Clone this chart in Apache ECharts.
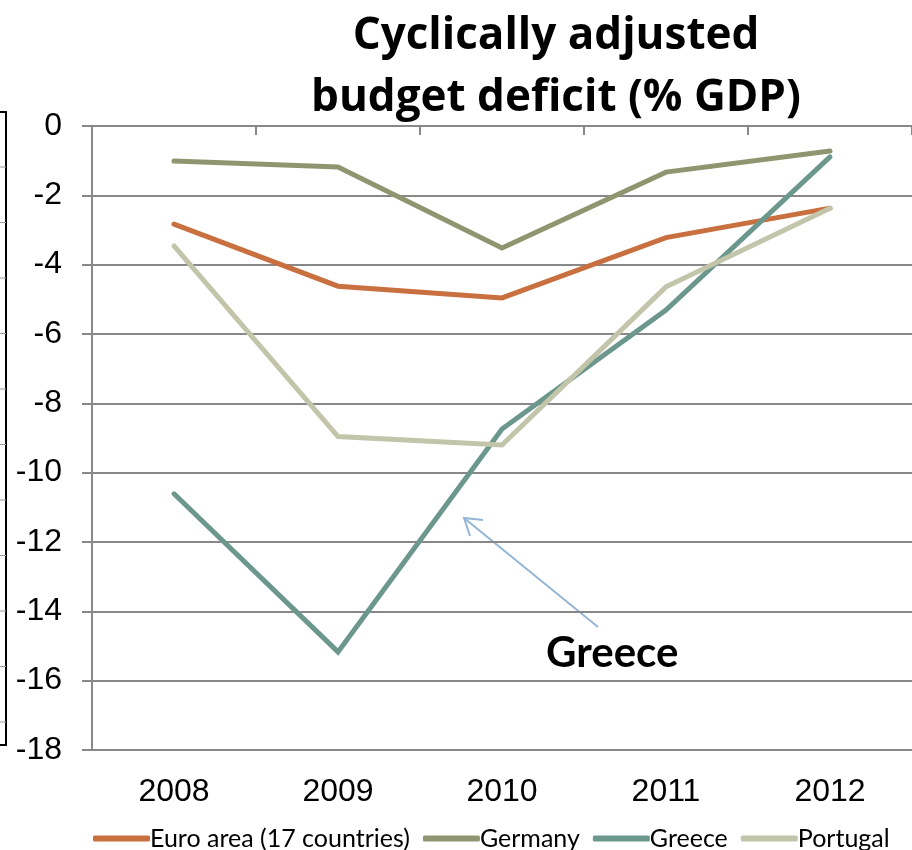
<!DOCTYPE html>
<html>
<head>
<meta charset="utf-8">
<script src="https://cdn.jsdelivr.net/npm/echarts@6/dist/echarts.min.js"></script>
<style>
  html, body { margin: 0; padding: 0; background: #fff; }
  #chart { width: 912px; height: 850px; }
</style>
</head>
<body>
<div id="chart"></div>
<script>
const years = ['2008', '2009', '2010', '2011', '2012'];
const euroArea = [-2.83, -4.62, -4.96, -3.22, -2.37];
const germany = [-1.01, -1.18, -3.52, -1.33, -0.72];
const greece = [-10.61, -15.17, -8.74, -5.31, -0.89];
const portugal = [-3.46, -8.96, -9.2, -4.64, -2.37];
const seriesNames = ['Euro area (17 countries)', 'Germany', 'Greece', 'Portugal'];
const seriesColors = ['#C8703F', '#8E9670', '#6C978D', '#C2C5A9'];

const myChart = echarts.init(document.getElementById('chart'));

const mkSeries = (name, data, color) => ({
  name: name,
  type: 'line',
  data: data,
  symbol: 'none',
  xAxisIndex: 0,
  lineStyle: { color: color, width: 5, cap: 'round', join: 'miter' },
  itemStyle: { color: color },
});

// left edge of a neighbouring chart that got cropped in
const edgeStubs = [];
for (let y = 167; y < 740; y += 55.5) {
  edgeStubs.push({
    type: 'line',
    shape: { x1: 0, y1: y, x2: 6, y2: y },
    style: { stroke: '#999', lineWidth: 1 },
  });
}

const option = {
  animation: false,
  title: {
    text: 'Cyclically adjusted\nbudget deficit (% GDP)',
    left: 551,
    top: 0,
    textAlign: 'center',
    textStyle: {
      fontFamily: 'Open Sans',
      fontWeight: 'bold',
      fontSize: 44,
      lineHeight: 62,
      color: '#000',
    },
  },
  legend: {
    bottom: -6,
    left: 88,
    itemWidth: 57,
    itemHeight: 6,
    itemGap: 13,
    icon: 'roundRect',
    data: seriesNames,
    textStyle: {
      fontFamily: 'Lato',
      fontSize: 25,
      color: '#000',
      padding: [0, 0, 0, -5],
    },
  },
  grid: {
    left: 92,
    right: -6,
    top: 126,
    bottom: 100,
  },
  xAxis: [
    {
      type: 'category',
      data: years,
      position: 'bottom',
      axisLine: { show: false, onZero: false },
      axisTick: { show: false },
      axisLabel: {
        fontFamily: 'Liberation Sans',
        fontSize: 32,
        color: '#000',
        margin: 26,
      },
    },
    {
      type: 'category',
      data: years,
      position: 'top',
      axisLine: { show: true, lineStyle: { color: '#888', width: 2 } },
      axisTick: { show: true, inside: true, length: 9, lineStyle: { color: '#888', width: 2 } },
      axisLabel: { show: false },
    },
  ],
  yAxis: {
    type: 'value',
    min: -18,
    max: 0,
    interval: 2,
    axisLine: { show: true, lineStyle: { color: '#888', width: 2 } },
    axisTick: { show: true, length: 10, lineStyle: { color: '#888', width: 2 } },
    axisLabel: {
      fontFamily: 'Liberation Sans',
      fontSize: 32,
      color: '#000',
      margin: 30,
    },
    splitLine: { lineStyle: { color: '#888', width: 2 } },
  },
  series: [
    mkSeries(seriesNames[0], euroArea, seriesColors[0]),
    mkSeries(seriesNames[1], germany, seriesColors[1]),
    mkSeries(seriesNames[2], greece, seriesColors[2]),
    mkSeries(seriesNames[3], portugal, seriesColors[3]),
  ],
  graphic: [
    {
      type: 'polyline',
      shape: { points: [[0, 112], [6, 112], [6, 745], [0, 745]] },
      style: { stroke: '#000', lineWidth: 2, fill: null },
    },
    ...edgeStubs,
    // arrow pointing at the Greece line
    {
      type: 'line',
      shape: { x1: 598, y1: 627, x2: 464, y2: 518 },
      style: { stroke: '#94B6D6', lineWidth: 2 },
    },
    {
      type: 'polyline',
      shape: { points: [[483, 520], [464, 518], [470, 536]] },
      style: { stroke: '#94B6D6', lineWidth: 2, fill: null },
    },
    {
      type: 'text',
      left: 546,
      top: 632,
      style: {
        text: 'Greece',
        fontFamily: 'Lato',
        fontWeight: 'bold',
        fontSize: 42,
        fill: '#000',
      },
    },
  ],
};

myChart.setOption(option);
</script>
</body>
</html>
